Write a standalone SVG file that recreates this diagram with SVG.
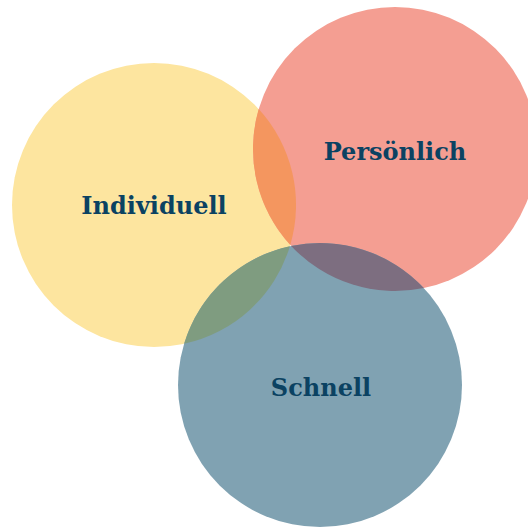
<svg xmlns="http://www.w3.org/2000/svg" width="528" height="529" viewBox="0 0 528 529">
<style>
.lbl{font-family:"DejaVu Serif","Liberation Serif",serif;font-weight:bold;font-size:24px;fill:#0B4262;text-anchor:middle}
</style>
<rect width="528" height="529" fill="#ffffff"/>
<g id="individuell">
<circle cx="154" cy="205" r="142" fill="#FDE59F"/>
</g>
<g id="persoenlich">
<circle cx="395" cy="149" r="142" fill="#F49E92"/>
</g>
<g id="schnell">
<circle cx="320" cy="385" r="142" fill="#80A2B2"/>
</g>
<g id="overlaps">
<path d="M258.7 109.1 A142 142 0 0 0 290.3 244.9 A142 142 0 0 0 258.7 109.1 Z" fill="#F4965F"/>
<path d="M184.1 343.8 A142 142 0 0 1 289.9 246.2 A142 142 0 0 1 184.1 343.8 Z" fill="#7F9C80"/>
<path d="M291.2 245.9 A142 142 0 0 1 423.8 288.1 A142 142 0 0 1 291.2 245.9 Z" fill="#7D6E80"/>
</g>
<text class="lbl" x="154" y="214">Individuell</text>
<text class="lbl" x="395" y="160">Persönlich</text>
<text class="lbl" x="321" y="396">Schnell</text>
</svg>
